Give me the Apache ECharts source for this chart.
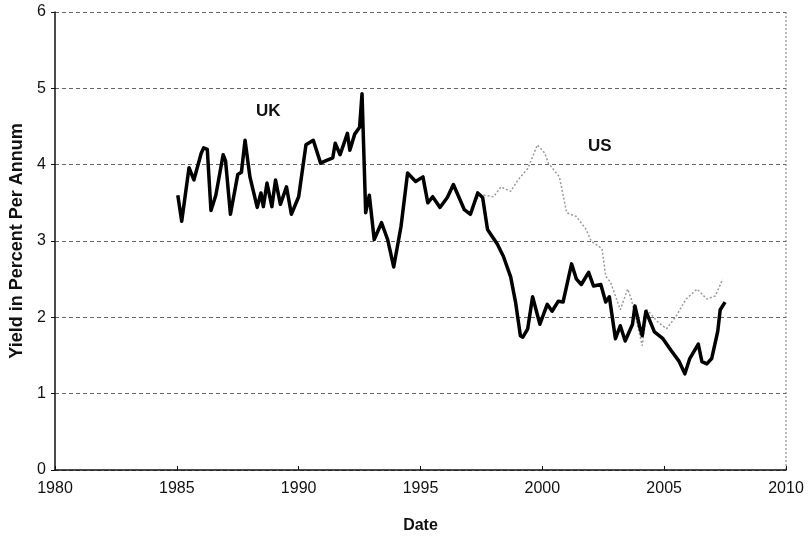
<!DOCTYPE html>
<html lang="en">
<head>
    <meta charset="UTF-8">
    <script src="https://cdn.jsdelivr.net/npm/echarts@6.0.0/dist/echarts.min.js"></script>
    <title>UK and US yields</title>
    <style>
        html, body { margin: 0; padding: 0; background: #fff; }
    </style>
</head>
<body>
<div id="main" style="width: 810px;height:539px;"></div>
<script type="text/javascript">
    // x ticks / y ticks
    var xTicks = [1980, 1985, 1990, 1995, 2000, 2005, 2010];
    var yTicks = [0, 1, 2, 3, 4, 5, 6];

    // UK yield (thick black line)
    var ukYears = [1985.04, 1985.2, 1985.5, 1985.7, 1986.0, 1986.1, 1986.25, 1986.4, 1986.6, 1986.9,
        1987.0, 1987.2, 1987.5, 1987.65, 1987.8, 1988.0, 1988.3, 1988.45, 1988.55, 1988.7,
        1988.9, 1989.05, 1989.25, 1989.5, 1989.7, 1990.0, 1990.3, 1990.6, 1990.9, 1991.1,
        1991.4, 1991.5, 1991.7, 1992.0, 1992.1, 1992.3, 1992.5, 1992.6, 1992.75, 1992.9,
        1993.1, 1993.4, 1993.65, 1993.9, 1994.2, 1994.47, 1994.8, 1995.1, 1995.3, 1995.5,
        1995.8, 1996.1, 1996.35, 1996.8, 1997.05, 1997.35, 1997.55, 1997.75, 1998.15, 1998.4,
        1998.7, 1998.9, 1999.1, 1999.2, 1999.4, 1999.6, 1999.9, 2000.2, 2000.4, 2000.65,
        2000.85, 2001.2, 2001.4, 2001.6, 2001.9, 2002.1, 2002.4, 2002.6, 2002.75, 2003.0,
        2003.2, 2003.4, 2003.7, 2003.8, 2004.0, 2004.1, 2004.25, 2004.6, 2004.95, 2005.3,
        2005.6, 2005.85, 2006.05, 2006.4, 2006.55, 2006.75, 2006.95, 2007.2, 2007.3, 2007.5];
    var ukValues = [3.6, 3.26, 3.96, 3.8, 4.15, 4.22, 4.2, 3.4, 3.6, 4.13,
        4.05, 3.35, 3.87, 3.9, 4.32, 3.84, 3.44, 3.63, 3.45, 3.76,
        3.45, 3.8, 3.48, 3.71, 3.35, 3.58, 4.26, 4.32, 4.02, 4.05,
        4.09, 4.28, 4.13, 4.41, 4.19, 4.4, 4.49, 4.93, 3.37, 3.6,
        3.02, 3.24, 3.02, 2.66, 3.19, 3.89, 3.78, 3.84, 3.5, 3.58,
        3.44, 3.57, 3.74, 3.41, 3.35, 3.63, 3.57, 3.15, 2.96, 2.8,
        2.53, 2.2, 1.76, 1.74, 1.85, 2.27, 1.91, 2.17, 2.08, 2.21,
        2.2, 2.7, 2.5, 2.43, 2.59, 2.41, 2.43, 2.2, 2.27, 1.72,
        1.89, 1.69, 1.91, 2.15, 1.87, 1.76, 2.08, 1.81, 1.72, 1.56,
        1.43, 1.26, 1.46, 1.65, 1.42, 1.39, 1.46, 1.82, 2.1, 2.2];

    // US yield (faint dotted line)
    var usYears = [1997.3, 1997.6, 1998.0, 1998.3, 1998.7, 1999.0, 1999.4, 1999.8, 2000.1, 2000.25,
        2000.7, 2001.0, 2001.4, 2001.8, 2002.0, 2002.45, 2002.6, 2002.8, 2003.2, 2003.5,
        2003.65, 2003.9, 2004.1, 2004.3, 2004.7, 2005.1, 2005.5, 2005.9, 2006.35, 2006.75,
        2007.1, 2007.4];
    var usValues = [3.55, 3.6, 3.58, 3.71, 3.65, 3.8, 3.95, 4.26, 4.15, 4.02,
        3.84, 3.37, 3.32, 3.15, 3.0, 2.9, 2.54, 2.46, 2.1, 2.37,
        2.24, 1.9, 1.63, 2.1, 1.95, 1.85, 2.02, 2.24, 2.37, 2.24,
        2.28, 2.5];

    function pairs(xs, ys) {
        var out = [];
        for (var i = 0; i < xs.length; i++) {
            out.push([xs[i], ys[i]]);
        }
        return out;
    }

    var chartDom = document.getElementById('main');
    var myChart = echarts.init(chartDom);
    var labelFont = "'Liberation Sans Narrow', 'Arial Narrow', 'Liberation Sans', sans-serif";
    var boldFont = "'Liberation Sans', Arial, sans-serif";

    var option = {
        backgroundColor: '#fff',
        animation: false,
        grid: {
            left: 53,
            right: 24,
            top: 12,
            bottom: 67,
            show: false
        },
        xAxis: {
            type: 'value',
            min: xTicks[0],
            max: xTicks[xTicks.length - 1],
            interval: 5,
            name: 'Date',
            nameLocation: 'middle',
            nameGap: 48,
            nameTextStyle: {
                fontFamily: boldFont,
                fontWeight: 'bold',
                fontSize: 16,
                color: '#111'
            },
            axisLine: { lineStyle: { color: '#111', width: 1.5 } },
            axisTick: { show: true, inside: true, length: 4, lineStyle: { color: '#111' } },
            axisLabel: {
                fontFamily: labelFont,
                fontSize: 16,
                color: '#111',
                margin: 11,
                formatter: function (v) { return String(v); }
            },
            splitLine: { show: false }
        },
        yAxis: {
            type: 'value',
            min: yTicks[0],
            max: yTicks[yTicks.length - 1],
            interval: 1,
            name: 'Yield in Percent Per Annum',
            nameLocation: 'middle',
            nameGap: 29,
            nameTextStyle: {
                fontFamily: boldFont,
                fontWeight: 'bold',
                fontSize: 18,
                color: '#111'
            },
            axisLine: { show: true, lineStyle: { color: '#111', width: 1.5 } },
            axisTick: { show: true, length: 4, lineStyle: { color: '#111' } },
            axisLabel: {
                fontFamily: labelFont,
                fontSize: 16,
                color: '#111',
                margin: 9
            },
            splitLine: {
                show: true,
                lineStyle: { color: '#666', type: [4, 3], width: 1 }
            }
        },
        graphic: [
            {
                type: 'line',
                shape: { x1: 786, y1: 12, x2: 786, y2: 472 },
                style: { stroke: '#777', lineWidth: 1, lineDash: [2, 2] }
            },
            {
                type: 'text',
                left: 256,
                top: 103,
                style: {
                    text: 'UK',
                    fontFamily: boldFont,
                    fontWeight: 'bold',
                    fontSize: 17,
                    fill: '#111'
                }
            },
            {
                type: 'text',
                left: 588,
                top: 138,
                style: {
                    text: 'US',
                    fontFamily: boldFont,
                    fontWeight: 'bold',
                    fontSize: 17,
                    fill: '#111'
                }
            }
        ],
        series: [
            {
                name: 'US',
                type: 'line',
                showSymbol: false,
                data: pairs(usYears, usValues),
                lineStyle: { color: '#9a9a9a', width: 1.5, type: [2, 2] },
                z: 2
            },
            {
                name: 'UK',
                type: 'line',
                showSymbol: false,
                data: pairs(ukYears, ukValues),
                lineStyle: { color: '#000', width: 3.5, join: 'round' },
                z: 3
            }
        ]
    };
    myChart.setOption(option);
</script>
</body>
</html>
